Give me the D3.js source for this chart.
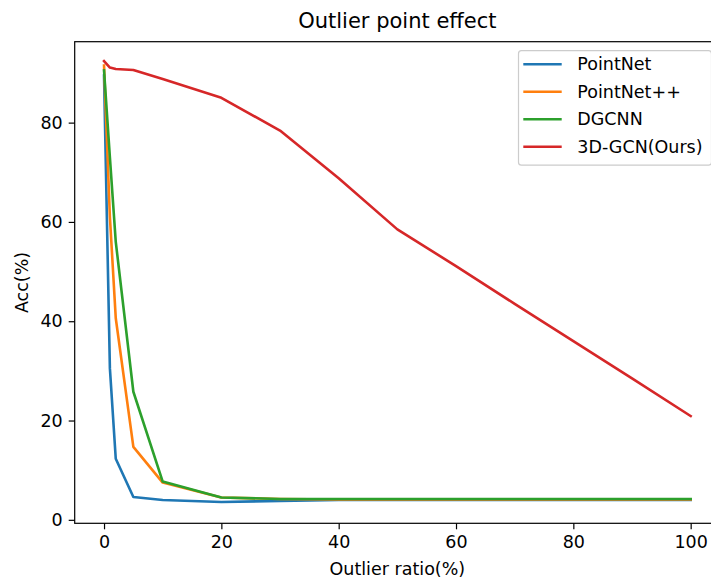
<!DOCTYPE html>
<html>
<head>
<meta charset="utf-8">
<script src="https://cdn.jsdelivr.net/npm/d3@7"></script>
<style>
  body { margin: 0; background: #fff; }
  svg { display: block; font-family: "DejaVu Sans", sans-serif; }
</style>
</head>
<body>
<svg id="chart" width="711" height="583"></svg>
<script>
// outlier ratio (%) on the x axis
const ratios = [0, 1, 2, 5, 10, 20, 30, 40, 50, 60, 70, 80, 90, 100]

// accuracy (%) per model
const pointnet   = [89.5, 30.5, 12.3, 4.6, 4.0, 3.6, 3.8, 4.0, 4.0, 4.0, 4.0, 4.0, 4.0, 4.0]
const pointnetpp = [91.5, 61.0, 40.6, 14.7, 7.5, 4.5, 4.2, 4.1, 4.1, 4.1, 4.1, 4.1, 4.1, 4.1]
const dgcnn      = [90.5, 73.0, 56.0, 25.8, 7.7, 4.5, 4.2, 4.2, 4.2, 4.2, 4.2, 4.2, 4.2, 4.2]
const gcn3d      = [92.4, 91.1, 90.8, 90.6, 88.8, 85.0, 78.4, 68.8, 58.5, 51.1, 43.5, 36.0, 28.5, 20.9]

const seriesNames = ['PointNet', 'PointNet++', 'DGCNN', '3D-GCN(Ours)']
const seriesColors = ['#1f77b4', '#ff7f0e', '#2ca02c', '#d62728']
const xTicks = [0, 20, 40, 60, 80, 100]
const yTicks = [0, 20, 40, 60, 80]

const allSeries = [pointnet, pointnetpp, dgcnn, gcn3d]

const plotLeft = 74.7, plotRight = 720, plotTop = 41.7, plotBottom = 523.3
const tickFont = 17.5

const svg = d3.select('#chart')

const x = d3.scaleLinear().domain([-5, 105]).range([plotLeft, plotRight])
const y = d3.scaleLinear().domain([-0.7, 96.3]).range([plotBottom, plotTop])

// axes
const xAxis = svg.append('g')
  .attr('transform', `translate(0,${plotBottom})`)
  .call(d3.axisBottom(x).tickValues(xTicks).tickSize(6).tickPadding(6).tickSizeOuter(0))
const yAxis = svg.append('g')
  .attr('transform', `translate(${plotLeft},0)`)
  .call(d3.axisLeft(y).tickValues(yTicks).tickSize(6).tickPadding(6).tickSizeOuter(0))

for (let ax of [xAxis, yAxis]) {
  ax.select('.domain').remove()
  ax.selectAll('line').attr('stroke', '#000').attr('stroke-width', 1.2)
  ax.selectAll('text').attr('fill', '#000').style('font-size', tickFont + 'px')
    .style('font-family', '"DejaVu Sans", sans-serif')
}

// spines
svg.append('rect')
  .attr('x', plotLeft).attr('y', plotTop)
  .attr('width', plotRight - plotLeft).attr('height', plotBottom - plotTop)
  .attr('fill', 'none').attr('stroke', '#000').attr('stroke-width', 1.2)

// lines
const line = d3.line()
  .x((d, i) => x(ratios[i]))
  .y(d => y(d))

allSeries.forEach((vals, i) => {
  svg.append('path')
    .datum(vals)
    .attr('d', line)
    .attr('fill', 'none')
    .attr('stroke', seriesColors[i])
    .attr('stroke-width', 2.6)
    .attr('stroke-linejoin', 'round')
    .attr('stroke-linecap', 'square')
})

// title and labels
svg.append('text')
  .attr('x', (plotLeft + plotRight) / 2).attr('y', 28)
  .attr('text-anchor', 'middle')
  .style('font-size', '21px')
  .text('Outlier point effect')

svg.append('text')
  .attr('x', (plotLeft + plotRight) / 2).attr('y', 575)
  .attr('text-anchor', 'middle')
  .style('font-size', tickFont + 'px')
  .text('Outlier ratio(%)')

svg.append('text')
  .attr('transform', `translate(28,${(plotTop + plotBottom) / 2}) rotate(-90)`)
  .attr('text-anchor', 'middle')
  .style('font-size', tickFont + 'px')
  .text('Acc(%)')

// legend
const legend = svg.append('g')
legend.append('rect')
  .attr('x', 518.5).attr('y', 50.7)
  .attr('width', 193).attr('height', 114.5)
  .attr('rx', 3)
  .attr('fill', '#fff').attr('fill-opacity', 0.8)
  .attr('stroke', '#cccccc').attr('stroke-width', 1.2)

seriesNames.forEach((name, i) => {
  const ly = 64.3 + i * 27.5
  legend.append('line')
    .attr('x1', 523.3).attr('x2', 561.7)
    .attr('y1', ly).attr('y2', ly)
    .attr('stroke', seriesColors[i]).attr('stroke-width', 2.6)
  legend.append('text')
    .attr('x', 577.3).attr('y', ly)
    .attr('dy', '0.35em')
    .style('font-size', tickFont + 'px')
    .text(name)
})
</script>
</body>
</html>
